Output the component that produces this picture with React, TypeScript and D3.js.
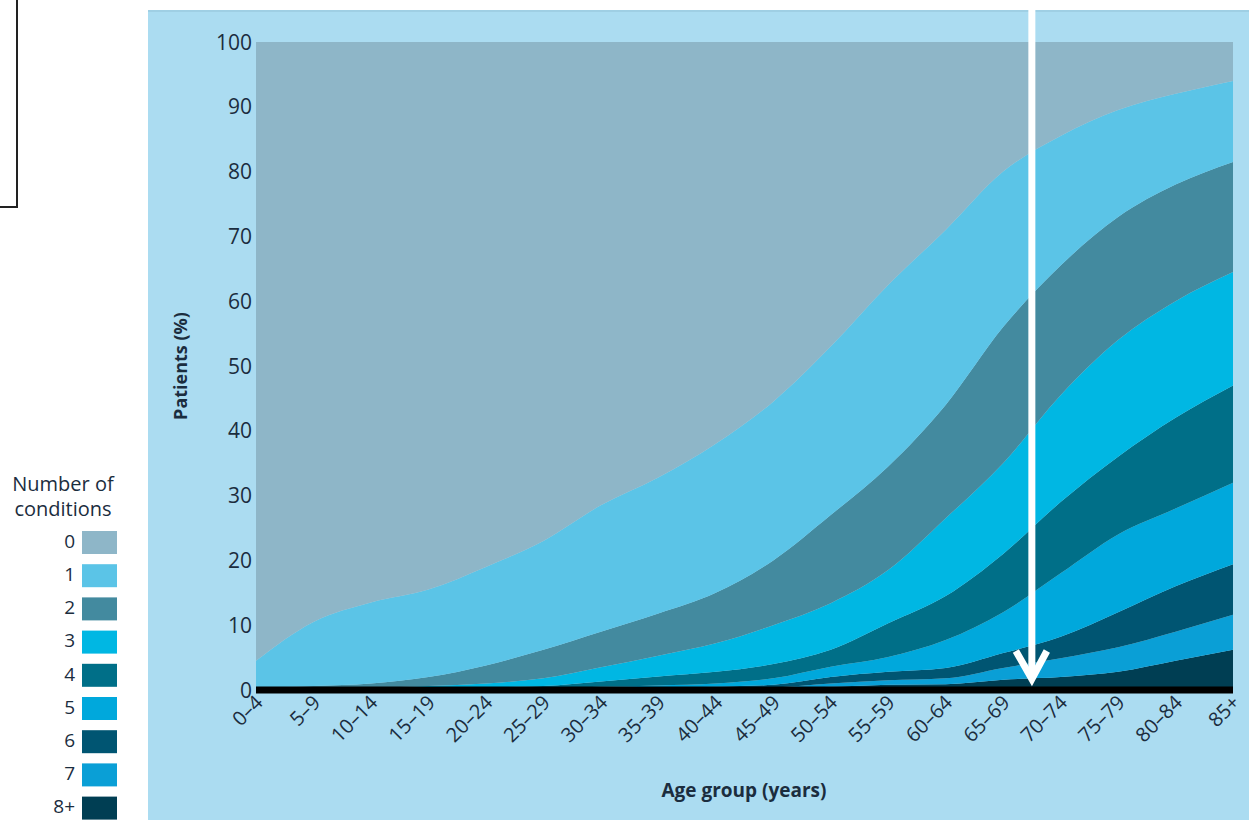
import React from "react";
import * as d3 from "d3";

const ageGroups = ["0–4","5–9","10–14","15–19","20–24","25–29","30–34","35–39","40–44","45–49","50–54","55–59","60–64","65–69","70–74","75–79","80–84","85+"];
const conditionKeys = ["0","1","2","3","4","5","6","7","8+"];

const c0 = [95.5, 89.5, 86.5, 84.5, 81, 77, 71.5, 67.2, 62, 55.5, 47, 37.5, 29, 20, 14.5, 10.5, 8, 6];
const c1 = [4.2, 9.9, 12.5, 13.5, 15.2, 16.8, 19.5, 21, 23, 24.5, 26, 28, 27, 24, 20, 16.5, 14, 12.5];
const c2 = [0.2, 0.4, 0.7, 1.4, 2.8, 4.4, 5.5, 6.5, 7.8, 10, 13.6, 16, 17.5, 21, 20, 19, 18, 17];
const c3 = [0.05, 0.1, 0.15, 0.35, 0.6, 1.2, 2.2, 3.2, 4.4, 6.0, 7.2, 8.2, 12, 14, 16.5, 18, 18, 17.5];
const c4 = [0.05, 0.05, 0.05, 0.15, 0.2, 0.3, 0.8, 1.4, 1.8, 2.2, 2.6, 5.2, 6.8, 9, 11, 12, 14, 15];
const c5 = [0, 0.05, 0.05, 0.05, 0.1, 0.15, 0.25, 0.35, 0.5, 1.0, 1.6, 2.3, 4.3, 6.3, 9.8, 12, 12, 12.6];
const c6 = [0, 0, 0.05, 0.05, 0.05, 0.1, 0.15, 0.2, 0.25, 0.4, 1.0, 1.3, 1.6, 2.3, 3.3, 5.4, 7, 7.8];
const c7 = [0, 0, 0, 0, 0.05, 0.05, 0.05, 0.1, 0.15, 0.2, 0.5, 0.7, 0.9, 1.8, 2.9, 3.8, 4.5, 5.4];
const c8 = [0, 0, 0, 0, 0, 0, 0.05, 0.05, 0.1, 0.2, 0.5, 0.8, 0.9, 1.6, 2.0, 2.8, 4.5, 6.2];

const yTicks = [0, 10, 20, 30, 40, 50, 60, 70, 80, 90, 100];

const colors = ["#8eb6c8", "#5bc4e7", "#438a9f", "#00b7e3", "#006f88", "#00a8dc", "#005572", "#0a9fd6", "#003e53"];

const series = [c0, c1, c2, c3, c4, c5, c6, c7, c8];

export default function App() {
  const W = 1249, H = 820;
  const x = d3.scalePoint<string>().domain(ageGroups).range([256, 1233]);
  const y = d3.scaleLinear().domain([0, 100]).range([690, 42]);

  const order = conditionKeys.map((_, i) => i).reverse();
  const rows = ageGroups.map((g, j) => {
    const r: any = { g };
    conditionKeys.forEach((k, i) => (r[k] = series[i][j]));
    return r;
  });
  const stackKeys = order.map((i) => conditionKeys[i]);
  const stacked = d3.stack<any>().keys(stackKeys)(rows);

  const area = d3
    .area<any>()
    .x((d: any) => x(d.data.g) as number)
    .y0((d: any) => y(d[0]))
    .y1((d: any) => y(d[1]))
    .curve(d3.curveMonotoneX);

  const font = "'Open Sans', 'Noto Sans', sans-serif";
  const textColor = "#1b2d3e";
  const arrowX = ((x("65–69") as number) + (x("70–74") as number)) / 2;

  return (
    <svg width={W} height={H} style={{ position: "absolute", left: 0, top: 0, background: "#fff" }} fontFamily={font}>
      <rect x={0} y={0} width={W} height={H} fill="#ffffff" />
      <rect x={-10} y={-10} width={27} height={217} fill="#fff" stroke="#222" strokeWidth={2} />
      <rect x={148} y={10} width={W - 148} height={H - 10} fill="#abdcf1" />
      <rect x={148} y={10} width={W - 148} height={2} fill="#9fcfe4" />

      {stacked.map((s) => {
        const idx = conditionKeys.indexOf(s.key);
        return <path key={s.key} d={area(s as any) || ""} fill={colors[idx]} />;
      })}

      <line x1={x(ageGroups[0])} x2={x(ageGroups[ageGroups.length - 1])} y1={y(0)} y2={y(0)} stroke="#000" strokeWidth={7} />

      {yTicks.map((t) => (
        <text key={t} x={252} y={y(t)} dy="0.36em" textAnchor="end" fontSize={21} fill={textColor}>
          {t}
        </text>
      ))}
      <text transform={`translate(187, ${y(50)}) rotate(-90)`} textAnchor="middle" fontSize={18} fontWeight="bold" fill={textColor}>
        Patients (%)
      </text>

      {ageGroups.map((g) => (
        <text
          key={g}
          transform={`translate(${(x(g) as number) + 8}, ${704}) rotate(-45)`}
          textAnchor="end"
          fontSize={20}
          fill={textColor}
        >
          {g}
        </text>
      ))}
      <text x={744} y={797} textAnchor="middle" fontSize={19} fontWeight="bold" fill={textColor}>
        Age group (years)
      </text>

      <line x1={arrowX} x2={arrowX} y1={0} y2={678} stroke="#fff" strokeWidth={7} />
      <polyline
        points={`${arrowX - 16},${651} ${arrowX},${679} ${arrowX + 15},${651}`}
        fill="none"
        stroke="#fff"
        strokeWidth={7}
        strokeLinejoin="miter"
      />

      <text x={63} y={491} textAnchor="middle" fontSize={20} fill={textColor}>Number of</text>
      <text x={63} y={516} textAnchor="middle" fontSize={20} fill={textColor}>conditions</text>
      {conditionKeys.map((k, i) => (
        <g key={k}>
          <rect x={82} y={531 + i * 33.2} width={35} height={23} fill={colors[i]} />
          <text x={75} y={541 + i * 33.2} dy="0.36em" textAnchor="end" fontSize={19} fill={textColor}>
            {k}
          </text>
        </g>
      ))}
    </svg>
  );
}
